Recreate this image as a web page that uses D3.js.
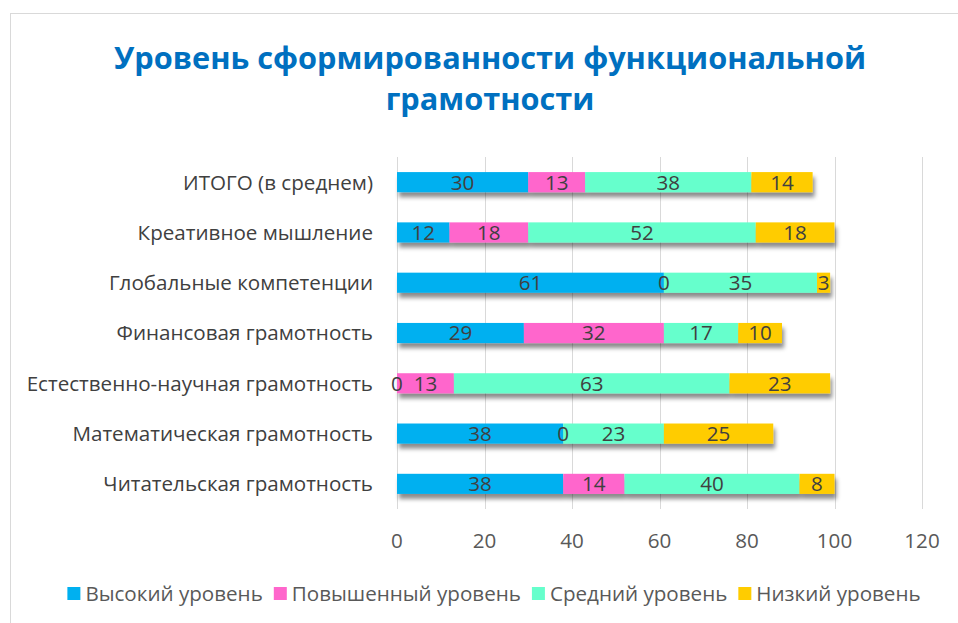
<!DOCTYPE html>
<html>
<head>
<meta charset="utf-8">
<script src="https://cdn.jsdelivr.net/npm/d3@7"></script>
<style>
  body { margin: 0; background: #fff; }
  svg { display: block; font-family: "Open Sans", sans-serif; }
</style>
</head>
<body>
<div id="chart"></div>
<script>
// категории сверху вниз
var categories = [
  "ИТОГО (в среднем)",
  "Креативное мышление",
  "Глобальные компетенции",
  "Финансовая грамотность",
  "Естественно-научная грамотность",
  "Математическая грамотность",
  "Читательская грамотность"
];
var seriesNames = ["Высокий уровень", "Повышенный уровень", "Средний уровень", "Низкий уровень"];
var high     = [30, 12, 61, 29, 0, 38, 38];
var elevated = [13, 18, 0, 32, 13, 0, 14];
var medium   = [38, 52, 35, 17, 63, 23, 40];
var low      = [14, 18, 3, 10, 23, 25, 8];
var xTicks = [0, 20, 40, 60, 80, 100, 120];
var colors = ["#00B0F0", "#FF66CC", "#66FFCC", "#FFCC00"];
var titleLines = ["Уровень сформированности функциональной", "грамотности"];

var width = 958, height = 623;
var margin = {top: 157, right: 36, bottom: 114, left: 397};
var fs = "20.6px";

var svg = d3.select("#chart").append("svg")
    .attr("width", width)
    .attr("height", height);

// тень под полосами
var defs = svg.append("defs");
var f = defs.append("filter").attr("id", "shadow")
    .attr("x", "-5%").attr("y", "-50%").attr("width", "110%").attr("height", "220%");
f.append("feDropShadow")
    .attr("dx", 2).attr("dy", 5).attr("stdDeviation", 2)
    .attr("flood-color", "#000").attr("flood-opacity", 0.45);

// рамка
svg.append("rect")
    .attr("x", 10.5).attr("y", 13.5)
    .attr("width", width + 20).attr("height", height + 20)
    .attr("fill", "none")
    .attr("stroke", "#d9d9d9");

svg.append("g").selectAll("text")
    .data(titleLines)
    .enter().append("text")
    .attr("x", 490)
    .attr("y", function(d, i) { return 69 + i * 41; })
    .attr("text-anchor", "middle")
    .attr("font-size", "30.7px")
    .attr("font-weight", "bold")
    .attr("fill", "#0070C0")
    .text(function(d) { return d; });

var x = d3.scaleLinear()
    .domain([0, 120])
    .range([margin.left, width - margin.right]);

var y = d3.scaleBand()
    .domain(categories)
    .range([margin.top, height - margin.bottom])
    .paddingInner(0.6)
    .paddingOuter(0.3);

// сетка
svg.append("g").selectAll("line")
    .data(xTicks)
    .enter().append("line")
    .attr("x1", function(d) { return Math.round(x(d)) + 0.5; })
    .attr("x2", function(d) { return Math.round(x(d)) + 0.5; })
    .attr("y1", margin.top)
    .attr("y2", height - margin.bottom)
    .attr("stroke", "#d9d9d9")
    .attr("stroke-width", 1);

// подписи оси
svg.append("g").selectAll("text")
    .data(xTicks)
    .enter().append("text")
    .attr("x", function(d) { return x(d); })
    .attr("y", 548)
    .attr("text-anchor", "middle")
    .attr("font-size", fs)
    .attr("fill", "#595959")
    .text(function(d) { return d; });

svg.append("g").selectAll("text")
    .data(categories)
    .enter().append("text")
    .attr("x", 373)
    .attr("y", function(d) { return y(d) + y.bandwidth() / 2; })
    .attr("dy", "0.36em")
    .attr("text-anchor", "end")
    .attr("font-size", fs)
    .attr("fill", "#404040")
    .text(function(d) { return d; });

var rows = categories.map(function(c, i) {
  return {cat: c, values: [high[i], elevated[i], medium[i], low[i]]};
});
var stack = d3.stack().keys([0, 1, 2, 3]).value(function(d, k) { return d.values[k]; });
var layers = stack(rows);

var rowG = svg.append("g").selectAll("g")
    .data(rows)
    .enter().append("g")
    .attr("filter", "url(#shadow)");

rowG.selectAll("rect")
    .data(function(d, i) { return layers.map(function(l, k) { return {k: k, s: l[i]}; }); })
    .enter().append("rect")
    .attr("x", function(d) { return x(d.s[0]); })
    .attr("y", function(d) { return y(d.s.data.cat); })
    .attr("width", function(d) { return x(d.s[1]) - x(d.s[0]); })
    .attr("height", y.bandwidth())
    .attr("fill", function(d) { return colors[d.k]; });

// подписи значений
var labelG = svg.append("g");
layers.forEach(function(l, k) {
  labelG.selectAll(".lbl" + k)
      .data(l)
      .enter().append("text")
      .attr("class", "lbl" + k)
      .attr("x", function(d) { return (x(d[0]) + x(d[1])) / 2; })
      .attr("y", function(d) { return y(d.data.cat) + y.bandwidth() / 2; })
      .attr("dy", "0.36em")
      .attr("text-anchor", "middle")
      .attr("font-size", fs)
      .attr("fill", "#404040")
      .text(function(d) { return d.data.values[k]; });
});

// легенда
var legend = svg.append("g");
var items = legend.selectAll("g")
    .data(seriesNames)
    .enter().append("g");
items.append("rect")
    .attr("width", 13).attr("height", 13)
    .attr("y", 587)
    .attr("fill", function(d, i) { return colors[i]; });
items.append("text")
    .attr("x", 18)
    .attr("y", 593.5)
    .attr("dy", "0.36em")
    .attr("font-size", fs)
    .attr("fill", "#595959")
    .text(function(d) { return d; });

var offs = [], total = 0;
items.each(function() {
  var w = 18 + d3.select(this).select("text").node().getComputedTextLength();
  offs.push(total);
  total += w + 11;
});
total -= 11;
var start = 494 - total / 2;
items.attr("transform", function(d, i) { return "translate(" + (start + offs[i]) + ",0)"; });
</script>
</body>
</html>
